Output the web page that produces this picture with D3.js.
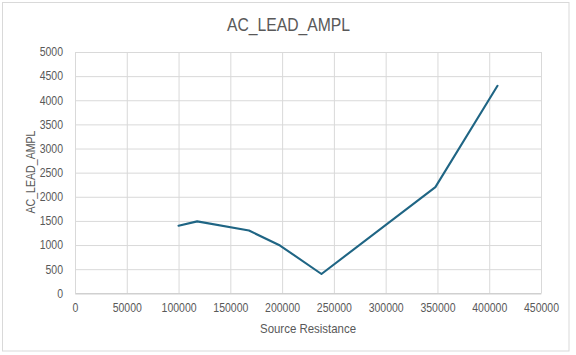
<!DOCTYPE html>
<html>
<head>
<meta charset="utf-8">
<script src="https://cdn.jsdelivr.net/npm/d3@7"></script>
<style>
  body { margin: 0; background: #fff; }
  svg { display: block; font-family: "Liberation Sans", Arial, sans-serif; }
</style>
</head>
<body>
<svg id="chart" width="576" height="355"></svg>
<script>
const title = "AC_LEAD_AMPL";
const xTitle = "Source Resistance";
const yTitle = "AC_LEAD_AMPL";
const xValues = [100000, 118000, 168000, 198000, 238000, 348000, 408000];
const yValues = [1400, 1490, 1300, 990, 400, 2200, 4300];
const xTicks = [0, 50000, 100000, 150000, 200000, 250000, 300000, 350000, 400000, 450000];
const yTicks = [0, 500, 1000, 1500, 2000, 2500, 3000, 3500, 4000, 4500, 5000];

const svg = d3.select("#chart");
const pw = 541 - 75, ph = 293.3 - 52;

function condense(sel, factor) {
  sel.each(function () {
    const L = this.getComputedTextLength();
    d3.select(this).attr("textLength", L * factor).attr("lengthAdjust", "spacingAndGlyphs");
  });
}

svg.append("rect").attr("x", 2.5).attr("y", 2.5).attr("width", 566.5).attr("height", 348.5)
  .attr("fill", "#fff").attr("stroke", "#d9d9d9").attr("stroke-width", 1);

const x = d3.scaleLinear().domain([0, 450000]).range([75, 541]);
const y = d3.scaleLinear().domain([0, 5000]).range([293.3, 52]);

const g = svg.append("g");

// vertical gridlines
g.append("g").attr("transform", "translate(0,52)")
  .call(d3.axisBottom(x).tickValues(xTicks).tickSize(ph).tickFormat(""))
  .call(s => s.select(".domain").remove())
  .call(s => s.selectAll("line").attr("stroke", "#d9d9d9").attr("stroke-width", 1));

// horizontal gridlines
g.append("g").attr("transform", "translate(75,0)")
  .call(d3.axisRight(y).tickValues(yTicks).tickSize(pw).tickFormat(""))
  .call(s => s.select(".domain").remove())
  .call(s => s.selectAll("line").attr("stroke", "#d9d9d9").attr("stroke-width", 1));

// x axis
const xa = g.append("g").attr("transform", "translate(0,293.3)")
  .call(d3.axisBottom(x).tickValues(xTicks).tickSize(0).tickPadding(10).tickFormat(d3.format("d")));
xa.select(".domain").attr("stroke", "#c8c8c8");
xa.selectAll("text").attr("fill", "#595959").attr("font-size", "12px")
  .attr("font-family", "'Liberation Sans', Arial, sans-serif");
condense(xa.selectAll("text"), 0.875);

// y axis
const ya = g.append("g").attr("transform", "translate(75,0)")
  .call(d3.axisLeft(y).tickValues(yTicks).tickSize(0).tickPadding(12).tickFormat(d3.format("d")));
ya.select(".domain").attr("stroke", "#d9d9d9");
ya.selectAll("text").attr("fill", "#595959").attr("font-size", "12px")
  .attr("font-family", "'Liberation Sans', Arial, sans-serif");
condense(ya.selectAll("text"), 0.875);

// line
const pts = xValues.map((v, i) => [v, yValues[i]]);
g.append("path").datum(pts)
  .attr("fill", "none").attr("stroke", "#1f6584").attr("stroke-width", 2.1)
  .attr("stroke-linejoin", "round").attr("stroke-linecap", "round")
  .attr("d", d3.line().x(d => x(d[0])).y(d => y(d[1])));

// title
const t = svg.append("text").attr("x", 288.5).attr("y", 31).attr("text-anchor", "middle")
  .attr("fill", "#595959").attr("font-size", "19px").text(title);
t.attr("textLength", 123).attr("lengthAdjust", "spacingAndGlyphs");

const xt = svg.append("text").attr("x", 308).attr("y", 333).attr("text-anchor", "middle")
  .attr("fill", "#595959").attr("font-size", "13px").text(xTitle);
xt.attr("textLength", 96).attr("lengthAdjust", "spacingAndGlyphs");

const yt = svg.append("text").attr("transform", "translate(35,172) rotate(-90)").attr("text-anchor", "middle")
  .attr("fill", "#595959").attr("font-size", "13px").text(yTitle);
yt.attr("textLength", 83).attr("lengthAdjust", "spacingAndGlyphs");
</script>
</body>
</html>
